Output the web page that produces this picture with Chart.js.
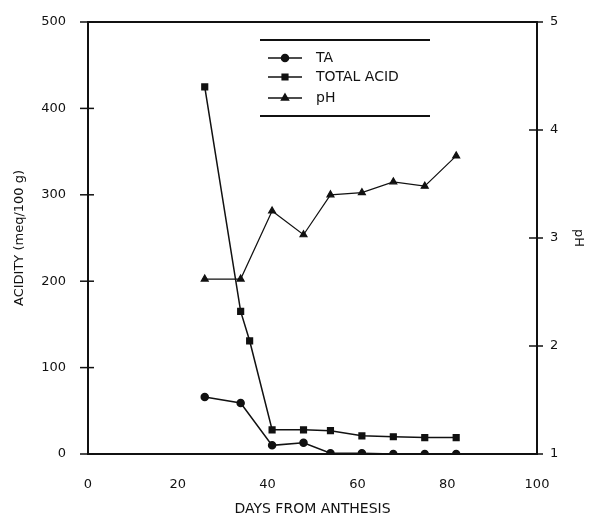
<!DOCTYPE html>
<html>
<head>
<meta charset="utf-8">
<script src="https://cdn.jsdelivr.net/npm/chart.js@4"></script>
<style>
html,body{margin:0;padding:0;background:#fff;}
#wrap{width:590px;height:522px;}
</style>
</head>
<body>
<div id="wrap"><canvas id="c" width="590" height="522"></canvas></div>
<script>
// ---- data ----
const taDays = [26, 34, 41, 48, 54, 61, 68, 75, 82];
const taValues = [66, 59, 10, 13, 1, 1, 0, 0, 0];
const totalAcidDays = [26, 34, 36, 41, 48, 54, 61, 68, 75, 82];
const totalAcidValues = [425, 165, 131, 28, 28, 27, 21, 20, 19, 19];
const phDays = [26, 34, 41, 48, 54, 61, 68, 75, 82];
const phValues = [2.62, 2.62, 3.25, 3.03, 3.40, 3.42, 3.52, 3.48, 3.76];
const xTicks = [0, 20, 40, 60, 80, 100];
const acidityTicks = [0, 100, 200, 300, 400, 500];
const phTicks = [1, 2, 3, 4, 5];
const seriesNames = ['TA', 'TOTAL ACID', 'pH'];

const FONT = '"DejaVu Sans", "Liberation Sans", sans-serif';
const INK = '#111';

function pts(xs, ys){ return xs.map((x,i)=>({x:x, y:ys[i]})); }

const frameAndTicks = {
  id: 'frameAndTicks',
  afterDatasetsDraw(chart){
    const ctx = chart.ctx, a = chart.chartArea;
    const sy = chart.scales.y, sy2 = chart.scales.y2;
    ctx.save();
    ctx.strokeStyle = INK;
    ctx.lineWidth = 2;
    ctx.strokeRect(a.left, a.top, a.right - a.left, a.bottom - a.top);
    ctx.lineWidth = 1.5;
    acidityTicks.forEach(v => {
      const y = sy.getPixelForValue(v);
      ctx.beginPath(); ctx.moveTo(a.left - 8, y); ctx.lineTo(a.left + 6, y); ctx.stroke();
    });
    phTicks.forEach(v => {
      const y = sy2.getPixelForValue(v);
      ctx.beginPath(); ctx.moveTo(a.right - 8, y); ctx.lineTo(a.right + 6, y); ctx.stroke();
    });
    // legend
    const lx0 = 260, lx1 = 430;
    ctx.lineWidth = 2;
    ctx.beginPath(); ctx.moveTo(lx0, 40); ctx.lineTo(lx1, 40); ctx.stroke();
    ctx.beginPath(); ctx.moveTo(lx0, 116); ctx.lineTo(lx1, 116); ctx.stroke();
    const rows = [58, 77, 98];
    chart.data.datasets.forEach((ds, i) => {
      const y = rows[i];
      ctx.lineWidth = 1.5;
      ctx.strokeStyle = INK;
      ctx.fillStyle = INK;
      ctx.beginPath(); ctx.moveTo(268, y); ctx.lineTo(302, y); ctx.stroke();
      Chart.helpers.drawPoint(ctx, {pointStyle: ds.pointStyle, radius: ds.pointRadius, borderWidth: 1}, 285, y);
      ctx.font = '14px ' + FONT;
      ctx.textBaseline = 'middle';
      ctx.textAlign = 'left';
      ctx.fillText(ds.label, 316, y);
    });
    ctx.restore();
  }
};

new Chart(document.getElementById('c'), {
  type: 'scatter',
  data: {
    datasets: [
      {label: seriesNames[0], data: pts(taDays, taValues), yAxisID: 'y', showLine: true,
       borderColor: INK, backgroundColor: INK, borderWidth: 1.5, pointStyle: 'circle', pointRadius: 3.5},
      {label: seriesNames[1], data: pts(totalAcidDays, totalAcidValues), yAxisID: 'y', showLine: true,
       borderColor: INK, backgroundColor: INK, borderWidth: 1.5, pointStyle: 'rect', pointRadius: 4},
      {label: seriesNames[2], data: pts(phDays, phValues), yAxisID: 'y2', showLine: true,
       borderColor: INK, backgroundColor: INK, borderWidth: 1.2, pointStyle: 'triangle', pointRadius: 4}
    ]
  },
  options: {
    responsive: false,
    animation: false,
    layout: {padding: {top: 22, left: 0, right: 0, bottom: 0}},
    plugins: {legend: {display: false}, tooltip: {enabled: false}},
    scales: {
      x: {
        type: 'linear', min: 0, max: 100,
        afterBuildTicks: s => { s.ticks = xTicks.map(v => ({value: v})); },
        afterFit: s => { s.height = 68; s.paddingLeft = 0; s.paddingRight = 0; },
        grid: {display: false, drawTicks: false},
        border: {display: false},
        ticks: {color: INK, font: {family: FONT, size: 13}, padding: 23, maxRotation: 0},
        title: {display: true, text: 'DAYS FROM ANTHESIS', color: INK, font: {family: FONT, size: 14}, padding: {top: 14}}
      },
      y: {
        type: 'linear', position: 'left', min: 0, max: 500,
        afterBuildTicks: s => { s.ticks = acidityTicks.map(v => ({value: v})); },
        afterFit: s => { s.width = 88; s.paddingTop = 0; s.paddingBottom = 0; },
        grid: {display: false, drawTicks: false},
        border: {display: false},
        ticks: {color: INK, font: {family: FONT, size: 13}, padding: 22},
        title: {display: true, text: 'ACIDITY (meq/100 g)', color: INK, font: {family: FONT, size: 13}, padding: {top: 12, bottom: 0}}
      },
      y2: {
        type: 'linear', position: 'right', min: 1, max: 5,
        afterBuildTicks: s => { s.ticks = phTicks.map(v => ({value: v})); },
        afterFit: s => { s.width = 53; s.paddingTop = 0; s.paddingBottom = 0; },
        grid: {display: false, drawTicks: false},
        border: {display: false},
        ticks: {color: INK, font: {family: FONT, size: 13}, padding: 13},
        title: {display: true, text: 'pH', color: INK, font: {family: FONT, size: 13}, padding: {top: 4}}
      }
    }
  },
  plugins: [frameAndTicks]
});
</script>
</body>
</html>
